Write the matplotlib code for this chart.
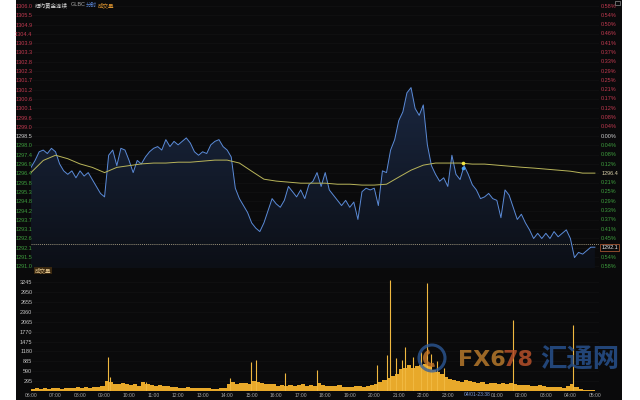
import numpy as np
import matplotlib.pyplot as plt
from matplotlib.patches import Rectangle, PathPatch, Circle, Wedge
from matplotlib.colors import LinearSegmentedColormap
from matplotlib.transforms import blended_transform_factory

plt.rcParams['font.family'] = ['Liberation Sans', 'Noto Sans CJK SC', 'DejaVu Sans']

# ---- data: minutes after 06:00 ----
# price every 10 min
price = [1296.7, 1297.1, 1297.6, 1297.7, 1297.5, 1297.8, 1297.6, 1296.9, 1296.5, 1296.3,
         1296.5, 1296.1, 1296.5, 1296.2, 1296.4, 1296.0, 1295.6, 1295.2, 1295.0, 1297.4,
         1297.7, 1296.8, 1297.8, 1297.7, 1297.1, 1296.4, 1297.1, 1296.9, 1297.3, 1297.6,
         1297.8, 1297.9, 1297.7, 1298.3, 1297.9, 1298.2, 1298.0, 1298.2, 1298.4, 1298.1,
         1297.6, 1297.4, 1297.6, 1297.5, 1298.0, 1298.2, 1298.3, 1297.9, 1297.7, 1297.3,
         1295.5, 1294.9, 1294.5, 1294.1, 1293.5, 1293.2, 1293.0, 1293.5, 1294.2, 1294.9,
         1294.6, 1294.4, 1294.8, 1295.6, 1295.3, 1295.0, 1295.4, 1294.9, 1295.7, 1295.9,
         1296.4, 1295.6, 1296.4, 1295.4, 1295.1, 1294.8, 1294.5, 1294.8, 1294.4, 1294.7,
         1293.7, 1295.3, 1295.5, 1295.4, 1295.5, 1294.5, 1296.5, 1296.4, 1297.7, 1298.3,
         1299.4, 1299.9, 1301.0, 1301.3, 1300.1, 1299.7, 1300.3, 1298.0, 1296.8, 1296.3,
         1295.9, 1296.1, 1295.6, 1297.4, 1296.3, 1296.0, 1296.8, 1296.3, 1295.7, 1295.4,
         1294.9, 1295.0, 1295.2, 1294.9, 1294.8, 1293.8, 1295.4, 1295.1, 1294.4, 1293.7,
         1294.0, 1293.5, 1293.1, 1292.6, 1292.9, 1292.6, 1292.9, 1292.6, 1293.0, 1292.7,
         1292.9, 1293.1, 1292.6, 1291.5, 1291.8, 1291.7, 1291.9, 1292.1, 1292.1]
price_t = np.arange(len(price)) * 10

# average price every 30 min
avg = [1296.4, 1297.1, 1297.4, 1297.2, 1296.9, 1296.7, 1296.4, 1296.7, 1296.8, 1296.9,
       1296.95, 1296.95, 1297.0, 1297.0, 1297.06, 1297.12, 1297.12, 1296.95, 1296.48, 1296.02,
       1295.91, 1295.85, 1295.79, 1295.79, 1295.79, 1295.73, 1295.73, 1295.68, 1295.68, 1295.73,
       1296.14, 1296.54, 1296.83, 1296.95, 1296.95, 1296.95, 1296.89, 1296.89, 1296.83, 1296.77,
       1296.71, 1296.66, 1296.60, 1296.54, 1296.48, 1296.37, 1296.37]
avg_t = np.arange(len(avg)) * 30

# volume every 10 min
vol_base = [60, 80, 70, 90, 60, 80,
            90, 70, 100, 80, 90, 110,
            100, 120, 90, 130, 110, 150,
            300, 260, 220, 200, 230, 210,
            180, 200, 160, 260, 200, 170,
            150, 170, 140, 160, 120, 110,
            100, 90, 110, 80, 90, 100,
            80, 90, 70, 60, 80, 90,
            220, 260, 200, 230, 250, 210,
            300, 280, 240, 220, 200, 210,
            150, 170, 160, 190, 140, 180,
            200, 160, 170, 150, 230, 180,
            160, 150, 140, 170, 130, 120,
            120, 140, 160, 130, 150, 170,
            200, 260, 320, 380, 450, 500,
            650, 700, 760, 680, 740, 780,
            800, 740, 640, 560, 500, 420,
            350, 330, 300, 280, 320, 300,
            260, 240, 280, 220, 250, 230,
            220, 250, 210, 240, 200, 190,
            180, 170, 160, 150, 170, 140,
            130, 120, 110, 120, 100, 140,
            200, 120, 60, 40, 30, 40]
vol_t = np.arange(len(vol_base)) * 10

# single-minute volume spikes
spike_t = [188, 193, 281, 487, 538, 551, 621, 700, 846, 871, 878, 893, 908, 915, 935,
           955, 969, 980, 993, 1010, 1179, 1326]
spike_v = [1010, 420, 270, 390, 860, 920, 530, 620, 760, 1070, 3300, 980, 920, 1310, 1000,
           1150, 3220, 1100, 900, 700, 2120, 1970]

hours = ['06:00', '07:00', '08:00', '09:00', '10:00', '11:00', '12:00', '13:00', '14:00',
         '15:00', '16:00', '17:00', '18:00', '19:00', '20:00', '21:00', '22:00', '23:00',
         '', '01:00', '02:00', '03:00', '04:00', '05:00']

left_up = ['1306.0', '1305.5', '1304.9', '1304.4', '1303.9', '1303.3', '1302.8', '1302.3',
           '1301.7', '1301.2', '1300.6', '1300.1', '1299.6', '1299.0']
left_dn = ['1298.0', '1297.4', '1296.9', '1296.4', '1295.8', '1295.3', '1294.8', '1294.2',
           '1293.7', '1293.1', '1292.6', '1292.1', '1291.5', '1291.0']
pct_up = ['0.58%', '0.54%', '0.50%', '0.46%', '0.41%', '0.37%', '0.33%', '0.29%',
          '0.25%', '0.21%', '0.17%', '0.12%', '0.08%', '0.04%']
pct_dn = ['0.04%', '0.08%', '0.12%', '0.17%', '0.21%', '0.25%', '0.29%', '0.33%',
          '0.37%', '0.41%', '0.45%', '0.50%', '0.54%', '0.58%']
ref_price = 1298.5
step = 0.536
vol_ticks = [295, 590, 885, 1180, 1475, 1770, 2065, 2360, 2655, 2950, 3245]

cross_t = 1058
cross_label = '04/01-23:38'
dash_level = 1292.3

BG = '#0a0a0b'
RED = '#c23a50'
GRN = '#3e9e3e'

fig = plt.figure(figsize=(6.4, 4.0), dpi=100, facecolor='white')
fig.patches.append(Rectangle((16 / 640, 0), 606 / 640, 1, transform=fig.transFigure,
                             facecolor=BG, edgecolor='none', zorder=-5))

# ---- price panel ----
ax = fig.add_axes([31 / 640, 132 / 400, 568 / 640, 268 / 400])
ax.set_facecolor(BG)
ax.set_xlim(0, 1390)
ax.set_ylim(1290.9, 1306.35)
for s in ax.spines.values():
    s.set_visible(False)

pos_up = [ref_price + step * k for k in range(14, 0, -1)]
pos_dn = [ref_price - step * k for k in range(1, 15)]
ypos = pos_up + [ref_price] + pos_dn
ylab = left_up + ['1298.5'] + left_dn
ycol = [RED] * 14 + ['#d0d0d0'] + [GRN] * 14
ax.set_yticks(ypos)
ax.set_yticklabels(ylab)
ax.tick_params(axis='y', length=0, pad=-1, labelsize=4)
for lbl, c in zip(ax.get_yticklabels(), ycol):
    lbl.set_color(c)
ax.set_xticks([])
for p in ypos:
    ax.axhline(p, color='#141414', lw=0.4, zorder=0)

# gradient fill under price line
poly = ax.fill_between(price_t, price, 1290.9, color='none')
patch = PathPatch(poly.get_paths()[0], transform=ax.transData, facecolor='none', edgecolor='none')
ax.add_patch(patch)
cmap = LinearSegmentedColormap.from_list('g', ['#0c0f16', '#1a2740'])
grad = np.linspace(0, 1, 256).reshape(-1, 1)
im = ax.imshow(grad, extent=[0, 1390, 1290.9, 1301.5], origin='lower', aspect='auto',
               cmap=cmap, zorder=1)
im.set_clip_path(patch)

ax.plot(price_t, price, color='#5b8bd8', lw=0.7, zorder=3)
ax.plot(avg_t, avg, color='#b9b55a', lw=0.7, zorder=3)
ax.axhline(dash_level, color='#cdbf9c', lw=0.5, ls=(0, (1.5, 1.5)), zorder=2)

ax.plot(cross_t, np.interp(cross_t, avg_t, avg), 'o', color='#f2e640', ms=2.6, mec='none', zorder=4)
ax.plot(cross_t, np.interp(cross_t, price_t, price), 'o', color='#4aa2f2', ms=2.6, mec='none', zorder=4)

bt = blended_transform_factory(ax.transAxes, ax.transData)
pcol = [RED] * 14 + ['#d0d0d0'] + [GRN] * 14
for p, t, c in zip(ypos, pct_up + ['0.00%'] + pct_dn, pcol):
    ax.text(1.003, p, t, transform=bt, ha='left', va='center', fontsize=4, color=c)
ax.text(1.004, avg[-1], f'{avg[-1]:.1f}', transform=bt, ha='left', va='center', fontsize=4,
        color='#d8cfa8', bbox=dict(facecolor=BG, edgecolor='none', pad=0.8), zorder=5)
ax.text(1.004, price[-1], f'{price[-1]:.1f}', transform=bt, ha='left', va='center', fontsize=4,
        color='#e8e8e8', bbox=dict(facecolor=BG, edgecolor='#c0643a', lw=0.5, pad=0.8), zorder=5)

# title
fig.text(35 / 640, 1 - 5 / 400, '纽约黄金连续', fontsize=4, color='#d8d8d8', va='center')
fig.text(71 / 640, 1 - 5 / 400, 'GLBC', fontsize=4, color='#a8a8a8', va='center')
fig.text(86 / 640, 1 - 5 / 400, '分时', fontsize=4, color='#5a86d8', va='center')
fig.text(98 / 640, 1 - 5 / 400, '成交量', fontsize=4, color='#d8902e', va='center')
fig.patches.append(Rectangle((615 / 640, 1 - 5 / 400), 5 / 640, 4 / 400, transform=fig.transFigure,
                             facecolor='none', edgecolor='#b0b0b0', lw=0.4))

# ---- volume panel ----
axv = fig.add_axes([31 / 640, 9 / 400, 568 / 640, 119 / 400])
axv.set_facecolor(BG)
axv.set_xlim(0, 1390)
axv.set_ylim(0, 3546)
for s in axv.spines.values():
    s.set_visible(False)
for v in vol_ticks:
    axv.axhline(v, color='#141414', lw=0.4, zorder=0)
axv.bar(np.array(vol_t) + 5, vol_base, width=10, color='#e8a92a', linewidth=0, zorder=2)
axv.vlines(spike_t, 0, spike_v, color='#f0b840', lw=0.8, zorder=2)
axv.set_yticks(vol_ticks)
axv.set_yticklabels([str(v) for v in vol_ticks])
axv.tick_params(axis='y', length=0, pad=-1, labelsize=4, labelcolor='#c4c4c4')
axv.set_xticks(np.arange(len(hours)) * 60)
axv.set_xticklabels(hours)
axv.tick_params(axis='x', length=0, pad=1.2, labelsize=3.6, labelcolor='#a8a8a8')
axv.text(0.007, 1.035, '成交量', transform=axv.transAxes, ha='left', va='top', fontsize=4,
         color='#e2c48c', bbox=dict(facecolor='#3a2810', edgecolor='none', pad=0.6))
bv = blended_transform_factory(axv.transData, axv.transAxes)
axv.text(cross_t, -0.011, cross_label, transform=bv, ha='left', va='top', fontsize=3.6,
         color='#7d9bd6', bbox=dict(facecolor=BG, edgecolor='none', pad=0.6), zorder=6)

# watermark
wm = fig.add_axes([410 / 640, 22 / 400, 40 / 640, 40 / 400])
wm.set_xlim(0, 40)
wm.set_ylim(0, 40)
wm.axis('off')
wm.patch.set_alpha(0)
wm.add_patch(Circle((22, 20), 13, facecolor='none', edgecolor='#2e5c9e', lw=2.2, alpha=0.75))
wm.add_patch(Wedge((22, 20), 9, 110, 290, width=4, facecolor='#c8782a', alpha=0.8))
fig.text(458 / 640, 1 - 360 / 400, 'FX6', fontsize=16, weight='bold', color='#b5782c',
         alpha=0.85, va='center', family='DejaVu Sans')
fig.text(503 / 640, 1 - 360 / 400, '78', fontsize=16, weight='bold', color='#b5502a',
         alpha=0.85, va='center', family='DejaVu Sans')
fig.text(540 / 640, 1 - 360 / 400, '汇通网', fontsize=19, weight='bold', color='#27508c',
         alpha=0.85, va='center', family=['Noto Sans CJK SC', 'DejaVu Sans'])

fig.savefig('out.png', dpi=100, facecolor='white')
